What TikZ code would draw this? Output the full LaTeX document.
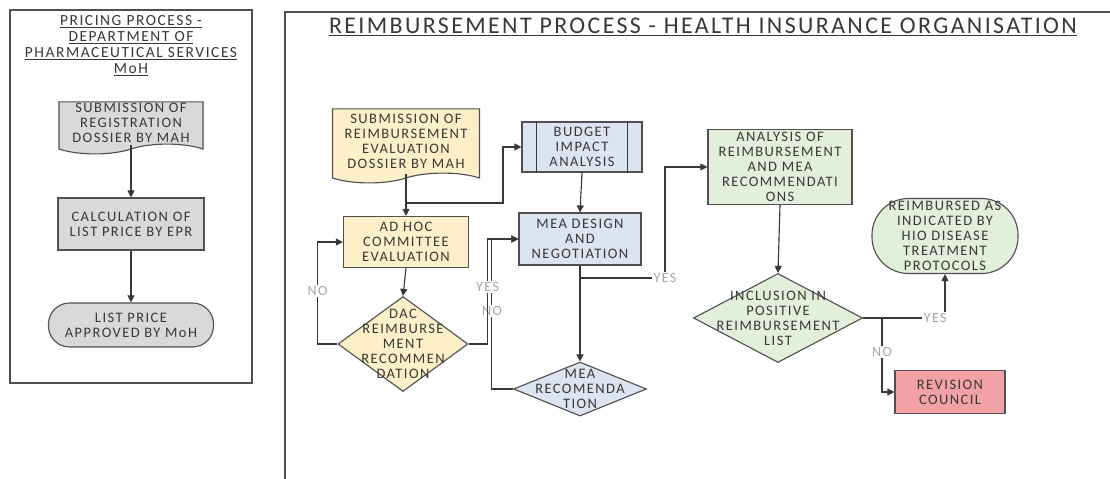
\documentclass[tikz,border=0pt]{standalone}
\usepackage{fontspec}
\setmainfont[LetterSpace=10]{Carlito}
\usetikzlibrary{shapes.geometric,shapes.symbols,arrows.meta}

\definecolor{txtgray}{HTML}{383838}
\definecolor{edgegray}{HTML}{505050}
\definecolor{docgray}{HTML}{D9D9D9}
\definecolor{hioyellow}{HTML}{FDEFC7}
\definecolor{hioblue}{HTML}{DCE3F1}
\definecolor{hiogreen}{HTML}{E2EFDA}
\definecolor{hiored}{HTML}{F2A2A6}
\definecolor{lblgray}{HTML}{A6A6A6}

\begin{document}
\begin{tikzpicture}[x=0.025cm, y=-0.025cm,
        every node/.style={text=txtgray, font=\fontsize{10.3}{10.6}\selectfont},
        box/.style={draw=edgegray, thick, align=center, inner sep=1pt},
        doc/.style={box, tape, tape bend top=none, tape bend bottom=in and out, tape bend height=7pt},
        dec/.style={draw=edgegray, thick, diamond, inner sep=0pt},
        arrow/.style={-{Triangle[length=5pt,width=5pt]}, thick, draw=txtgray},
        line/.style={thick, draw=txtgray},
        frame/.style={draw=edgegray, thick},
        yesno/.style={text=lblgray, fill=white, inner sep=1pt, font=\fontsize{10}{11}\selectfont}
        ]
        \useasboundingbox (0,0) rectangle (1110,479);

        % pricing process (MoH)
        \draw[frame] (10,10) rectangle (252,383);
        \node[align=center, font=\fontsize{11}{11.4}\selectfont] (mohtitle) at (131,46) {\underline{PRICING PROCESS -}\\\underline{DEPARTMENT OF}\\\underline{PHARMACEUTICAL SERVICES}\\\underline{MoH}};
        \node[doc, fill=docgray, minimum width=3.6cm, minimum height=1.3cm] (subreg) at (131,123) {SUBMISSION OF\\REGISTRATION\\DOSSIER BY MAH};
        \node[box, fill=docgray, minimum width=3.65cm, minimum height=1.3cm] (calc) at (131,224) {CALCULATION OF\\LIST PRICE BY EPR};
        \node[box, fill=docgray, rounded corners=15pt, minimum width=4.125cm, minimum height=1.1cm] (lpapp) at (131,325) {LIST PRICE\\APPROVED BY MoH};

        \draw[arrow] (subreg.south) -- (calc.north);
        \draw[arrow] (calc.south) -- (lpapp.north);

        % reimbursement process (HIO)
        \draw[frame] (285,479) -- (285,12) -- (1110,12);
        \node[font=\fontsize{17}{20}\selectfont] (hiotitle) at (703,27) {\underline{REIMBURSEMENT PROCESS - HEALTH INSURANCE ORGANISATION}};

        \node[doc, fill=hioyellow, minimum width=3.675cm, minimum height=1.85cm] (subre) at (406,141) {SUBMISSION OF\\REIMBURSEMENT\\EVALUATION\\DOSSIER BY MAH};
        \node[box, fill=hioblue, minimum width=3cm, minimum height=1.25cm] (budget) at (582,147) {BUDGET\\IMPACT\\ANALYSIS};
        \draw[line] ([xshift=0.375cm]budget.north west) -- ([xshift=0.375cm]budget.south west);
        \draw[line] ([xshift=-0.375cm]budget.north east) -- ([xshift=-0.375cm]budget.south east);
        \node[box, fill=hioyellow, minimum width=3.125cm, minimum height=1.275cm] (adhoc) at (406,242) {AD HOC\\COMMITTEE\\EVALUATION};
        \node[box, fill=hioblue, minimum width=3.05cm, minimum height=1.3cm] (mead) at (580,239) {MEA DESIGN\\AND\\NEGOTIATION};
        \node[dec, fill=hioyellow, minimum width=3.25cm, minimum height=2.375cm,
              label={[align=center]center:{DAC\\REIMBURSE\\MENT\\RECOMMEN\\DATION}}] (dac) at (403,344) {};
        \node[dec, fill=hioblue, minimum width=3.325cm, minimum height=1.35cm,
              label={[align=center]center:{MEA\\RECOMENDA\\TION}}] (mear) at (580,389) {};
        \node[box, fill=hiogreen, minimum width=3.6cm, minimum height=1.875cm] (anal) at (780,167) {ANALYSIS OF\\REIMBURSEMENT\\AND MEA\\RECOMMENDATI\\ONS};
        \node[dec, fill=hiogreen, minimum width=4.225cm, minimum height=2.225cm,
              label={[align=center]center:{INCLUSION IN\\POSITIVE\\REIMBURSEMENT\\LIST}}] (incl) at (778,318) {};
        \node[box, fill=hiogreen, rounded corners=26pt, minimum width=3.65cm, minimum height=1.875cm,
              label={[align=center]center:{REIMBURSED AS\\INDICATED BY\\HIO DISEASE\\TREATMENT\\PROTOCOLS}}] (reimb) at (945,236) {};
        \node[box, fill=hiored, minimum width=2.75cm, minimum height=1.075cm] (revc) at (950,392) {REVISION\\COUNCIL};

        \coordinate (split1) at (406,203);
        \coordinate (split2) at (580,278);
        \coordinate (split3) at (882,318);

        \draw[arrow] (subre.south) -- (adhoc.north);
        \draw[arrow] (split1) -- ++(97,0) |- (budget.west);
        \draw[arrow] (budget.south) -- (mead.north);
        \draw[arrow] (adhoc.south) -- (dac.north);
        \draw[arrow] (dac.west) -- ++(-20,0) |- (adhoc.west) node[pos=0.26, yesno] {NO};
        \draw[arrow] (mear.west) -- ++(-21,0) |- (mead.west) node[pos=0.26, yesno] {NO};
        \draw[arrow] (dac.east) -- ++(19,0) |- (mead.west) node[pos=0.27, yesno] {YES};
        \draw[arrow, line width=1.2pt] (mead.south) -- (mear.north);
        \draw[arrow] (split2) -- ++(85,0) node[yesno] {YES} |- (anal.west);
        \draw[arrow] (anal.south) -- (incl.north);
        \draw[arrow] (incl.east) -| (reimb.south) node[pos=0.44, yesno] {YES};
        \draw[arrow] (split3) |- (revc.west) node[pos=0.23, yesno] {NO};
    \end{tikzpicture}
\end{document}
